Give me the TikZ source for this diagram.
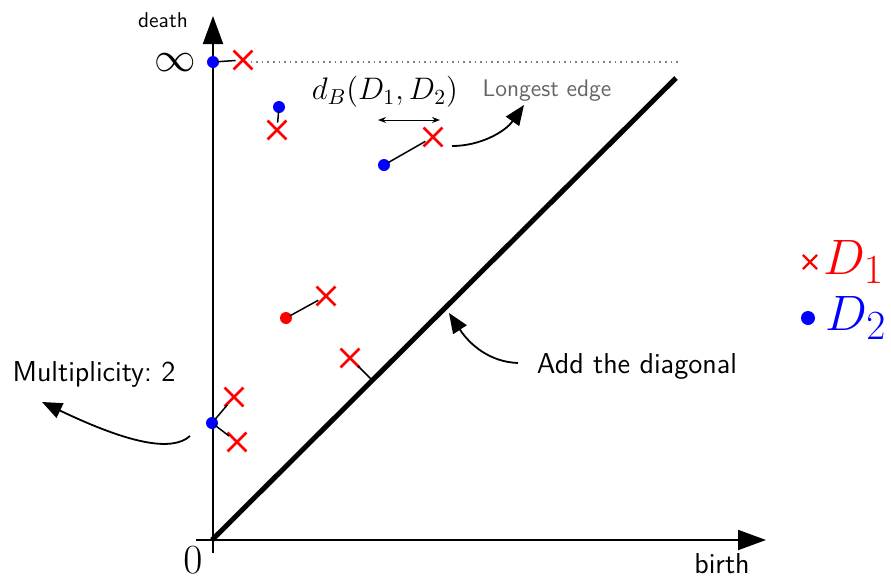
\documentclass[tikz,border=0pt]{standalone}
\usepackage{amsmath,amssymb}
\usepackage{xcolor}
\usepackage{tikz}
\usetikzlibrary{positioning,arrows.meta,shapes.misc}
\tikzset{
  xpt/.style={cross out,draw=red,line width=1.4pt,minimum size=8pt,inner sep=0pt},
  bpt/.style={circle,fill=blue,minimum size=6pt,inner sep=0pt},
  rpt/.style={circle,fill=red,minimum size=6pt,inner sep=0pt},
  lbl/.style={font=\sffamily,inner sep=1pt},
  match/.style={line width=0.75pt,shorten <=-1pt,shorten >=-1pt},
  note/.style={line width=0.9pt,-{Triangle[length=10pt,width=8pt]}},
}
\begin{document}
\begin{tikzpicture}[x=0.5pt,y=-0.5pt]
  \useasboundingbox (0,0) rectangle (891,579);
  % axes and diagonal
  \coordinate (o) at (212,540);
  \coordinate (xs) at (196,540);
  \coordinate (xe) at (766,540);
  \coordinate (ys) at (213,553);
  \coordinate (ye) at (213,16);
  \coordinate (de) at (676,78);
  \draw[line width=1pt,-{Triangle[length=14pt,width=10pt]}] (xs) -- (xe);
  \draw[line width=1pt,-{Triangle[length=14pt,width=10pt]}] (ys) -- (ye);
  \draw[line width=2.5pt] (o) -- (de);
  \coordinate (ds) at (245,62);
  \coordinate (dd) at (680,62);
  \draw[gray,dotted,line width=0.8pt] (ds) -- (dd);
  \node[lbl,font=\sffamily\normalsize,scale=1.07] (death) at (163,20) {death};
  \node[lbl,font=\sffamily\Large] (birth) at (722,564) {birth};
  \node[inner sep=0pt] (inf) at (175,63) {\huge$\infty$};
  \node[inner sep=0pt] (zero) at (193,560) {\huge$0$};
  % diagram points
  \node[bpt] (b1) at (213,62) {};
  \node[xpt] (a1) at (243,60) {};
  \node[bpt] (b2) at (279,107) {};
  \node[xpt] (a2) at (277,130) {};
  \node[bpt] (b3) at (384,165) {};
  \node[xpt] (a3) at (433,137) {};
  \node[rpt] (b4) at (286,318) {};
  \node[xpt] (a4) at (326,296) {};
  \node[xpt] (a5) at (350,358) {};
  \coordinate (p5) at (370,378);
  \node[bpt] (b6) at (212,423) {};
  \node[xpt] (a6) at (234,397) {};
  \node[xpt] (a7) at (237,442) {};
  \draw[match] (b1) -- (a1);
  \draw[match] (b2) -- (a2);
  \draw[match] (b3) -- (a3);
  \draw[match] (b4) -- (a4);
  \draw[match] (a5) -- (p5);
  \draw[match] (b6) -- (a6);
  \draw[match] (b6) -- (a7);
  % labels and pointers
  \node[inner sep=1pt,scale=1.08] (db) at (385,92) {\Large$d_B(D_1,D_2)$};
  \coordinate (dl) at (378,120);
  \coordinate (dr) at (440,120);
  \draw[{Stealth[length=4pt]}-{Stealth[length=4pt]},line width=0.5pt] (dl) -- (dr);
  \node[lbl,text=gray!80!black,font=\sffamily\large] (long) at (547,91) {Longest edge};
  \coordinate (lt) at (452,146);
  \coordinate (lh) at (524,105);
  \draw[note] (lt) .. controls (480,146) and (505,132) .. (lh);
  \node[lbl,font=\sffamily\Large] (add) at (637,366) {Add the diagonal};
  \coordinate (at) at (518,363);
  \coordinate (ah) at (449,313);
  \draw[note] (at) .. controls (490,362) and (470,345) .. (ah);
  \node[lbl,font=\sffamily\Large] (mult) at (94,374) {Multiplicity:\ 2};
  \coordinate (mt) at (190,436);
  \coordinate (mh) at (42,402);
  \draw[note] (mt) .. controls (172,452) and (130,444) .. (mh);
  % legend
  \node[xpt,line width=1.1pt,minimum size=6pt] (k1) at (810,262) {};
  \node[right=3pt of k1,text=red,inner sep=0pt] (l1) {\Huge$D_1$};
  \node[bpt,minimum size=7pt] (k2) at (808,318) {};
  \node[right=5pt of k2,text=blue,inner sep=0pt] (l2) {\Huge$D_2$};
\end{tikzpicture}
\end{document}
